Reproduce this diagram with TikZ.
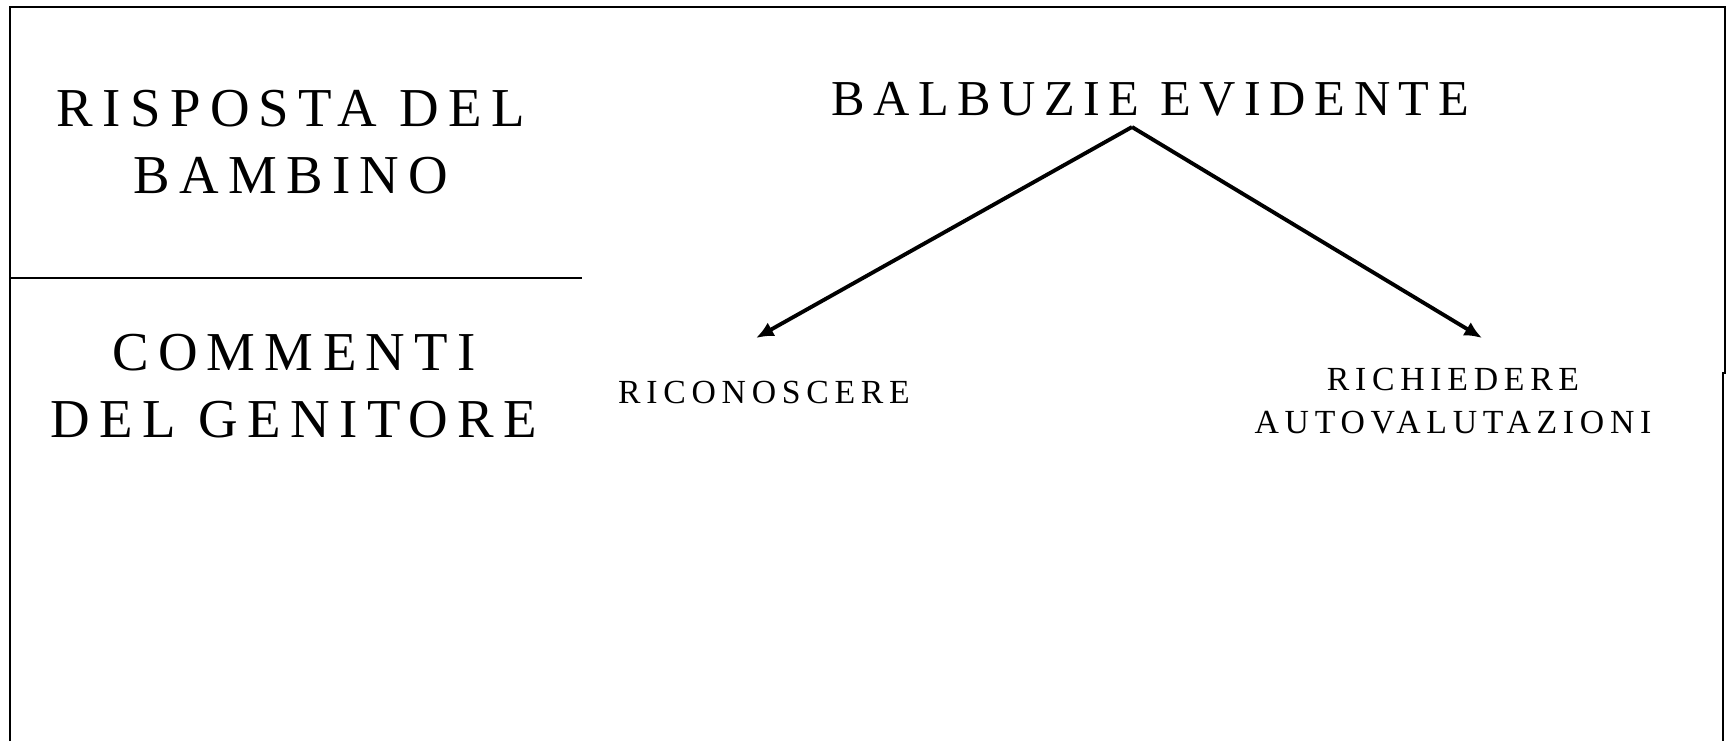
\documentclass[tikz,border=0pt]{standalone}
\usepackage{fontspec}
\setmainfont{Liberation Serif}
\newfontfamily\spaced[LetterSpace=17]{Liberation Serif}
\usepackage{tikz}
\usetikzlibrary{arrows.meta, positioning}

\begin{document}
\begin{tikzpicture}[
    x=0.1mm, y=-0.1mm,
    heading/.style={font=\spaced\fontsize{15.6}{18.8}\selectfont, inner sep=0pt, align=center, anchor=base},
    title/.style={font=\spaced\fontsize{14.3}{17}\selectfont, inner sep=0pt, anchor=base},
    choice/.style={font=\spaced\fontsize{9.6}{12.2}\selectfont, inner sep=0pt, align=center, anchor=base},
    frame/.style={line width=0.6pt},
    arrow/.style={-{Latex[length=5pt, width=4.4pt]}, line width=1.1pt}
]
    \useasboundingbox (0,0) rectangle (1731,741);

    % outer frame (open at the bottom) and the left divider
    \draw[frame] (10,741) -- (10,7) -- (1725,7) -- (1725,373) -- (1723,373) -- (1723,741);
    \draw[frame] (10,278) -- (582,278);

    % left column (base = last line)
    \node[heading] (child) at (291,193) {RISPOSTA DEL\\BAMBINO};
    \node[heading] (parent) at (294,437) {COMMENTI\\DEL GENITORE};

    % right side
    \node[title] (stutter) at (1150,115) {BALBUZIE EVIDENTE};
    \node[choice] (recognise) at (764,403) {RICONOSCERE};
    \node[choice] (selfrate) at (1453,433) {RICHIEDERE\\AUTOVALUTAZIONI};

    \coordinate (fork) at (1132,127);
    \coordinate (lefttip) at (756,338);
    \coordinate (righttip) at (1482,338);

    \draw[arrow] (fork) -- (lefttip);
    \draw[arrow] (fork) -- (righttip);
\end{tikzpicture}
\end{document}
